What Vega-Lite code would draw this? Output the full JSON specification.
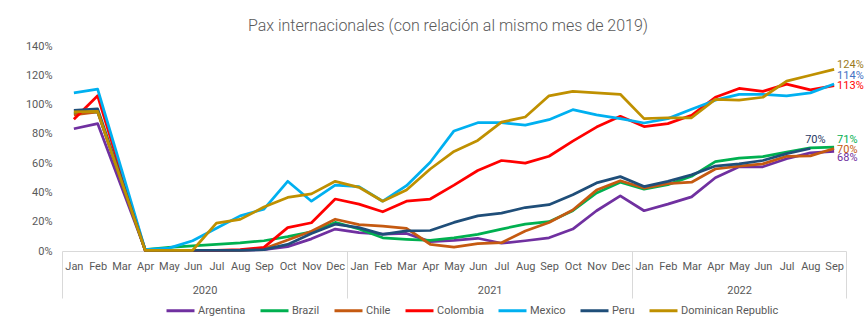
{
  "$schema": "https://vega.github.io/schema/vega-lite/v6.json",
  "width": 784,
  "height": 205,
  "autosize": {"type": "none"},
  "padding": {"left": 62, "top": 46, "right": 21, "bottom": 72},
  "background": "white",
  "config": {
    "font": "Roboto",
    "view": {"stroke": null},
    "axis": {"labelColor": "#595959", "labelFontSize": 11, "grid": false, "ticks": false, "title": null}
  },
  "title": {
    "text": "Pax internacionales (con relación al mismo mes de 2019)",
    "font": "Roboto",
    "fontSize": 16,
    "fontWeight": 300,
    "color": "#595959",
    "anchor": "middle",
    "frame": "group",
    "offset": 6,
    "dx": -6
  },
  "data": {
    "values": [
      {"t": 0, "Argentina": 0.835, "Brazil": 0.94, "Chile": 0.93, "Colombia": 0.90, "Mexico": 1.08, "Peru": 0.96, "Dominican Republic": 0.95},
      {"t": 1, "Argentina": 0.87, "Brazil": 0.95, "Chile": 0.95, "Colombia": 1.06, "Mexico": 1.105, "Peru": 0.97, "Dominican Republic": 0.954},
      {"t": 2, "Argentina": 0.44, "Brazil": 0.48, "Chile": 0.48, "Colombia": 0.53, "Mexico": 0.56, "Peru": 0.49, "Dominican Republic": 0.48},
      {"t": 3, "Argentina": 0.01, "Brazil": 0.01, "Chile": 0.005, "Colombia": 0.005, "Mexico": 0.01, "Peru": 0.005, "Dominican Republic": 0.005},
      {"t": 4, "Argentina": 0.005, "Brazil": 0.025, "Chile": 0.005, "Colombia": 0.005, "Mexico": 0.02, "Peru": 0.005, "Dominican Republic": 0.005},
      {"t": 5, "Argentina": 0.005, "Brazil": 0.035, "Chile": 0.005, "Colombia": 0.005, "Mexico": 0.07, "Peru": 0.005, "Dominican Republic": 0.005},
      {"t": 6, "Argentina": 0.005, "Brazil": 0.045, "Chile": 0.005, "Colombia": 0.005, "Mexico": 0.155, "Peru": 0.005, "Dominican Republic": 0.19},
      {"t": 7, "Argentina": 0.005, "Brazil": 0.055, "Chile": 0.005, "Colombia": 0.01, "Mexico": 0.24, "Peru": 0.005, "Dominican Republic": 0.216},
      {"t": 8, "Argentina": 0.01, "Brazil": 0.07, "Chile": 0.015, "Colombia": 0.025, "Mexico": 0.286, "Peru": 0.01, "Dominican Republic": 0.30},
      {"t": 9, "Argentina": 0.03, "Brazil": 0.098, "Chile": 0.075, "Colombia": 0.16, "Mexico": 0.476, "Peru": 0.045, "Dominican Republic": 0.366},
      {"t": 10, "Argentina": 0.083, "Brazil": 0.13, "Chile": 0.135, "Colombia": 0.193, "Mexico": 0.34, "Peru": 0.12, "Dominican Republic": 0.39},
      {"t": 11, "Argentina": 0.15, "Brazil": 0.195, "Chile": 0.217, "Colombia": 0.355, "Mexico": 0.45, "Peru": 0.183, "Dominican Republic": 0.476},
      {"t": 12, "Argentina": 0.126, "Brazil": 0.15, "Chile": 0.18, "Colombia": 0.32, "Mexico": 0.44, "Peru": 0.16, "Dominican Republic": 0.435},
      {"t": 13, "Argentina": 0.115, "Brazil": 0.09, "Chile": 0.17, "Colombia": 0.268, "Mexico": 0.34, "Peru": 0.114, "Dominican Republic": 0.34},
      {"t": 14, "Argentina": 0.12, "Brazil": 0.08, "Chile": 0.155, "Colombia": 0.34, "Mexico": 0.446, "Peru": 0.137, "Dominican Republic": 0.416},
      {"t": 15, "Argentina": 0.064, "Brazil": 0.073, "Chile": 0.046, "Colombia": 0.355, "Mexico": 0.606, "Peru": 0.14, "Dominican Republic": 0.56},
      {"t": 16, "Argentina": 0.073, "Brazil": 0.09, "Chile": 0.027, "Colombia": 0.45, "Mexico": 0.82, "Peru": 0.195, "Dominican Republic": 0.68},
      {"t": 17, "Argentina": 0.087, "Brazil": 0.114, "Chile": 0.05, "Colombia": 0.55, "Mexico": 0.876, "Peru": 0.24, "Dominican Republic": 0.755},
      {"t": 18, "Argentina": 0.053, "Brazil": 0.15, "Chile": 0.057, "Colombia": 0.618, "Mexico": 0.876, "Peru": 0.259, "Dominican Republic": 0.88},
      {"t": 19, "Argentina": 0.07, "Brazil": 0.183, "Chile": 0.137, "Colombia": 0.60, "Mexico": 0.86, "Peru": 0.297, "Dominican Republic": 0.915},
      {"t": 20, "Argentina": 0.09, "Brazil": 0.20, "Chile": 0.195, "Colombia": 0.647, "Mexico": 0.897, "Peru": 0.316, "Dominican Republic": 1.06},
      {"t": 21, "Argentina": 0.15, "Brazil": 0.275, "Chile": 0.28, "Colombia": 0.75, "Mexico": 0.965, "Peru": 0.384, "Dominican Republic": 1.09},
      {"t": 22, "Argentina": 0.275, "Brazil": 0.396, "Chile": 0.416, "Colombia": 0.846, "Mexico": 0.93, "Peru": 0.465, "Dominican Republic": 1.08},
      {"t": 23, "Argentina": 0.377, "Brazil": 0.47, "Chile": 0.48, "Colombia": 0.92, "Mexico": 0.904, "Peru": 0.508, "Dominican Republic": 1.07},
      {"t": 24, "Argentina": 0.275, "Brazil": 0.423, "Chile": 0.43, "Colombia": 0.85, "Mexico": 0.874, "Peru": 0.44, "Dominican Republic": 0.904},
      {"t": 25, "Argentina": 0.32, "Brazil": 0.453, "Chile": 0.46, "Colombia": 0.87, "Mexico": 0.904, "Peru": 0.476, "Dominican Republic": 0.91},
      {"t": 26, "Argentina": 0.37, "Brazil": 0.51, "Chile": 0.47, "Colombia": 0.927, "Mexico": 0.968, "Peru": 0.52, "Dominican Republic": 0.91},
      {"t": 27, "Argentina": 0.50, "Brazil": 0.61, "Chile": 0.56, "Colombia": 1.05, "Mexico": 1.03, "Peru": 0.58, "Dominican Republic": 1.036},
      {"t": 28, "Argentina": 0.575, "Brazil": 0.634, "Chile": 0.58, "Colombia": 1.11, "Mexico": 1.07, "Peru": 0.595, "Dominican Republic": 1.03},
      {"t": 29, "Argentina": 0.575, "Brazil": 0.645, "Chile": 0.595, "Colombia": 1.09, "Mexico": 1.07, "Peru": 0.618, "Dominican Republic": 1.05},
      {"t": 30, "Argentina": 0.63, "Brazil": 0.675, "Chile": 0.647, "Colombia": 1.14, "Mexico": 1.06, "Peru": 0.665, "Dominican Republic": 1.16},
      {"t": 31, "Argentina": 0.67, "Brazil": 0.705, "Chile": 0.65, "Colombia": 1.10, "Mexico": 1.08, "Peru": 0.70, "Dominican Republic": 1.20},
      {"t": 32, "Argentina": 0.68, "Brazil": 0.71, "Chile": 0.70, "Colombia": 1.13, "Mexico": 1.14, "Peru": null, "Dominican Republic": 1.24}
    ]
  },
  "transform": [
    {"fold": ["Argentina", "Brazil", "Chile", "Colombia", "Mexico", "Peru", "Dominican Republic"], "as": ["country", "value"]},
    {"filter": "isValid(datum.value)"}
  ],
  "encoding": {
    "y": {
      "field": "value", "type": "quantitative",
      "scale": {"domain": [0, 1.4], "nice": false, "zero": true},
      "axis": {"values": [0, 0.2, 0.4, 0.6, 0.8, 1.0, 1.2, 1.4], "tickCount": 8, "format": ".0%", "domain": false, "labelPadding": 10, "labelOverlap": false, "labelFlush": false}
    }
  },
  "layer": [
    {
      "mark": {"type": "line", "strokeWidth": 2.75, "strokeJoin": "round"},
      "encoding": {
        "x": {
          "field": "t", "type": "quantitative",
          "scale": {"domain": [-0.5, 32.5], "nice": false, "zero": false},
          "axis": {
            "orient": "bottom",
            "values": [0,1,2,3,4,5,6,7,8,9,10,11,12,13,14,15,16,17,18,19,20,21,22,23,24,25,26,27,28,29,30,31,32],
            "labelExpr": "['Jan','Feb','Mar','Apr','May','Jun','Jul','Aug','Sep','Oct','Nov','Dec'][datum.value % 12]",
            "domain": true, "domainColor": "#D9D9D9", "domainWidth": 1,
            "labelPadding": 9, "labelOverlap": false, "labelFlush": false
          }
        },
        "color": {
          "field": "country", "type": "nominal",
          "scale": {
            "domain": ["Argentina", "Brazil", "Chile", "Colombia", "Mexico", "Peru", "Dominican Republic"],
            "range": ["#7030A0", "#00B050", "#C55A11", "#FF0000", "#00B0F0", "#1F4E79", "#BF9000"]
          },
          "legend": {
            "orient": "none", "legendX": 103, "legendY": 249, "direction": "horizontal",
            "title": null, "symbolType": "stroke", "symbolSize": 784, "symbolStrokeWidth": 3,
            "labelFontSize": 11, "labelColor": "#595959", "labelOffset": 2, "columnPadding": 8,
            "labelLimit": 200
          }
        }
      }
    },
    {
      "mark": {"type": "point", "opacity": 0},
      "encoding": {
        "x": {
          "field": "t", "type": "quantitative",
          "axis": {
            "orient": "bottom", "values": [5.5, 17.5, 28],
            "labelExpr": "datum.value < 12 ? '2020' : (datum.value < 24 ? '2021' : '2022')",
            "domain": false, "labelPadding": 33, "labelFlush": false
          }
        }
      }
    },
    {
      "mark": {"type": "point", "opacity": 0},
      "encoding": {
        "x": {
          "field": "t", "type": "quantitative",
          "axis": {
            "orient": "bottom", "values": [-0.5, 11.5, 23.5, 32.5],
            "labels": false, "domain": false, "ticks": true, "tickSize": 47, "tickColor": "#D9D9D9", "tickWidth": 1
          }
        }
      }
    },
    {
      "transform": [{"filter": "datum.t == 32 && datum.country == 'Dominican Republic'"}],
      "mark": {"type": "text", "align": "left", "dx": 3, "dy": -4, "fontSize": 11, "color": "#9C7A1A"},
      "encoding": {"x": {"field": "t", "type": "quantitative", "axis": null}, "text": {"field": "value", "format": ".0%"}}
    },
    {
      "transform": [{"filter": "datum.t == 32 && datum.country == 'Mexico'"}],
      "mark": {"type": "text", "align": "left", "dx": 3, "dy": -8, "fontSize": 11, "color": "#4472C4"},
      "encoding": {"x": {"field": "t", "type": "quantitative", "axis": null}, "text": {"field": "value", "format": ".0%"}}
    },
    {
      "transform": [{"filter": "datum.t == 32 && datum.country == 'Colombia'"}],
      "mark": {"type": "text", "align": "left", "dx": 3, "dy": 0, "fontSize": 11, "color": "#FF0000"},
      "encoding": {"x": {"field": "t", "type": "quantitative", "axis": null}, "text": {"field": "value", "format": ".0%"}}
    },
    {
      "transform": [{"filter": "datum.t == 32 && datum.country == 'Brazil'"}],
      "mark": {"type": "text", "align": "left", "dx": 3, "dy": -7, "fontSize": 11, "color": "#00B050"},
      "encoding": {"x": {"field": "t", "type": "quantitative", "axis": null}, "text": {"field": "value", "format": ".0%"}}
    },
    {
      "transform": [{"filter": "datum.t == 32 && datum.country == 'Chile'"}],
      "mark": {"type": "text", "align": "left", "dx": 3, "dy": 1, "fontSize": 11, "color": "#C55A11"},
      "encoding": {"x": {"field": "t", "type": "quantitative", "axis": null}, "text": {"field": "value", "format": ".0%"}}
    },
    {
      "transform": [{"filter": "datum.t == 32 && datum.country == 'Argentina'"}],
      "mark": {"type": "text", "align": "left", "dx": 3, "dy": 7, "fontSize": 11, "color": "#7030A0"},
      "encoding": {"x": {"field": "t", "type": "quantitative", "axis": null}, "text": {"field": "value", "format": ".0%"}}
    },
    {
      "transform": [{"filter": "datum.t == 31 && datum.country == 'Peru'"}],
      "mark": {"type": "text", "align": "center", "dx": 5, "dy": -9, "fontSize": 11, "color": "#1F3864"},
      "encoding": {"x": {"field": "t", "type": "quantitative", "axis": null}, "text": {"field": "value", "format": ".0%"}}
    }
  ],
  "resolve": {"axis": {"x": "independent"}}
}
